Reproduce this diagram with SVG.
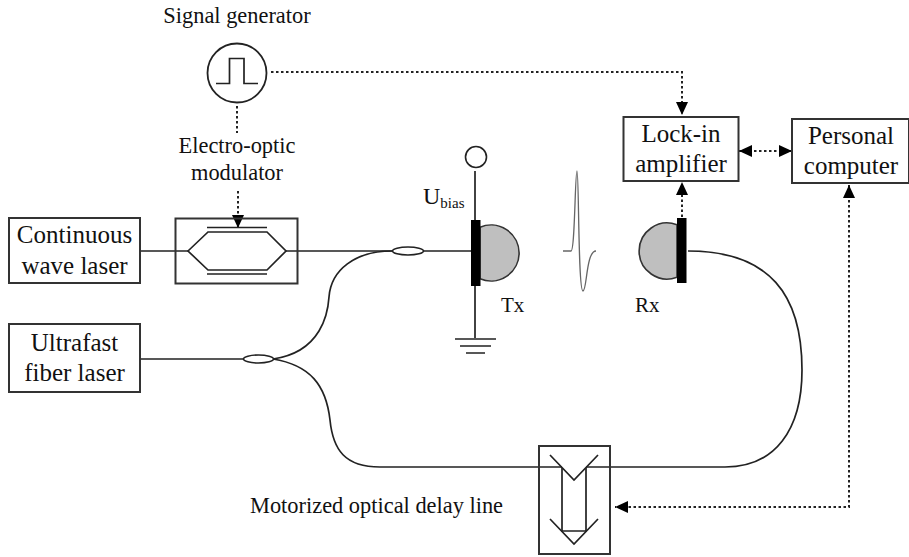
<svg xmlns="http://www.w3.org/2000/svg" width="909" height="557" viewBox="0 0 909 557">
<style>
text{font-family:"Liberation Serif","Times New Roman",serif;fill:#111;font-size:25px}
.m{text-anchor:middle}
.t{font-size:22.400px}
.s{font-size:21px}
.b{fill:#fff;stroke:#333;stroke-width:2}
.o{fill:none;stroke:#333;stroke-width:2}
.l{fill:none;stroke:#222;stroke-width:1.700}
.d{fill:none;stroke:#222;stroke-width:2;stroke-dasharray:2.500 2.500}
.g{fill:#bfbfbf;stroke:#333;stroke-width:1.600}
</style>
<defs>
<marker id="a" markerUnits="userSpaceOnUse" markerWidth="14" markerHeight="12" refX="13" refY="6" orient="auto-start-reverse"><path d="M0 0L13 6L0 12Z" fill="#000"/></marker>
</defs>
<rect width="909" height="557" fill="#fff"/>
<g id="connectors">
<path class="d" d="M271 72H682V115" marker-end="url(#a)"/>
<path class="d" d="M237 106V133"/>
<path class="d" d="M238 191V228" marker-end="url(#a)"/>
<path class="d" d="M682 217V182" marker-end="url(#a)"/>
<path class="d" d="M739 151H792" marker-start="url(#a)" marker-end="url(#a)"/>
<path class="d" d="M849 185V507H615" marker-start="url(#a)" marker-end="url(#a)"/>
<path class="l" d="M140 251H188M286 251H392M424 251H472"/>
<path class="l" d="M140 359H243M273 359C322 352 328 312 329 297C331 270 355 251 392 251"/>
<path class="l" d="M273 359C310 365 326 385 330 420C333 450 345 467 380 467H562"/>
<path class="l" d="M586 467H725C775 467 802 430 802 370C802 295 770 251 688 251"/>
<path class="l" d="M475 171V222M475 285V338"/>
</g>
<g id="signal-generator">
<text class="m t" x="237" y="23">Signal generator</text>
<circle cx="237" cy="73" r="29.500" fill="#fff" stroke="#222" stroke-width="1.800"/>
<path class="l" d="M216 83.500H229.500V58.500H244V83.500H258"/>
</g>
<g id="eom">
<text class="m t" x="237" y="153">Electro-optic</text>
<text class="m t" x="237" y="180">modulator</text>
<rect class="o" x="175.500" y="218.500" width="122" height="65"/>
<path class="l" d="M188 251L208 232H267L286 251L267 270H208Z"/>
<path class="l" d="M207 227.500H267M207 274H267"/>
</g>
<g id="cw-laser">
<rect class="b" x="9" y="218" width="131" height="65"/>
<text class="m" x="74.500" y="243">Continuous</text>
<text class="m" x="74.500" y="274">wave laser</text>
</g>
<g id="ultrafast-laser">
<rect class="b" x="9" y="324" width="131" height="68"/>
<text class="m" x="74.500" y="351">Ultrafast</text>
<text class="m" x="74.500" y="381">fiber laser</text>
</g>
<g id="couplers">
<ellipse cx="408" cy="251" rx="15.500" ry="4" fill="#fff" stroke="#222" stroke-width="1.600"/>
<ellipse cx="258.500" cy="359" rx="15" ry="4" fill="#fff" stroke="#222" stroke-width="1.600"/>
</g>
<g id="tx">
<circle cx="476" cy="157" r="10.500" fill="#fff" stroke="#222" stroke-width="1.600"/>
<text x="423" y="204" style="font-size:24px">U<tspan font-size="15" dy="4">bias</tspan></text>
<path class="g" d="M480 227.300A28 28 0 1 1 480 278.700Z"/>
<rect x="471" y="220" width="9.500" height="66" fill="#000"/>
<text class="s" x="501" y="312">Tx</text>
<path class="l" d="M455 339H496M460 346H491M466 353H485"/>
</g>
<g id="pulse">
<path d="M563 251H571C575 251 575 171 577 171C579 171 578 291 583 291C587 291 586 251 596 251" fill="none" stroke="#666" stroke-width="1.300"/>
</g>
<g id="rx">
<path class="g" d="M677 224.800A28 28 0 1 0 677 277.200Z"/>
<rect x="677" y="218" width="9.500" height="65" fill="#000"/>
<text class="s" x="635" y="312">Rx</text>
</g>
<g id="lock-in">
<rect class="b" x="623.500" y="117" width="115" height="64"/>
<text class="m" x="681" y="142">Lock-in</text>
<text class="m" x="681" y="172">amplifier</text>
</g>
<g id="pc">
<rect class="b" x="792" y="119" width="117" height="64"/>
<text class="m" x="851" y="144">Personal</text>
<text class="m" x="851" y="174">computer</text>
</g>
<g id="delay-line">
<text class="t" x="250" y="513">Motorized optical delay line</text>
<rect class="o" x="539" y="446" width="71" height="108"/>
<path class="l" d="M550 455L574 480L598 455M550 519L574 544L598 519"/>
<path class="l" d="M562 468V531H586V468"/>
</g>
</svg>
